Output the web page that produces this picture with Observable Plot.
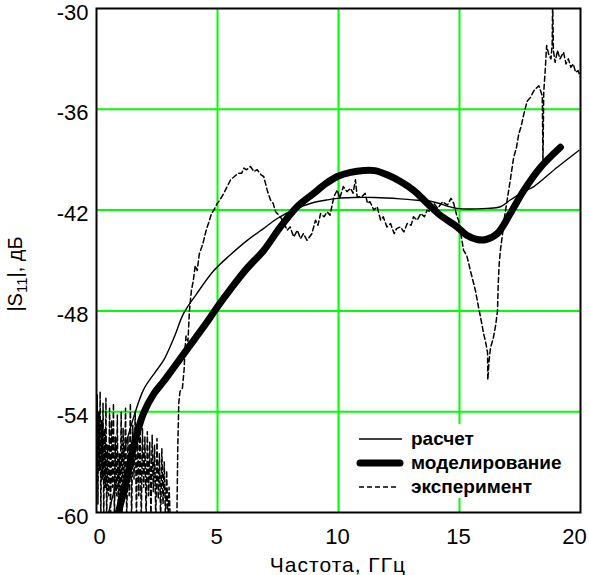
<!DOCTYPE html>
<html><head><meta charset="utf-8">
<script src="https://cdn.jsdelivr.net/npm/d3@7"></script>
<script src="https://cdn.jsdelivr.net/npm/@observablehq/plot@0.6"></script>
<style>
body{margin:0;background:#fff;}
#chart{width:589px;height:575px;}
</style></head><body><div id="chart"></div>
<script>
// ---- data ----
const xTicks = [0, 5, 10, 15, 20];
const yTicks = [-60, -54, -48, -42, -36, -30];
const xTickLabels = ["0", "5", "10", "15", "20"];
const yTickLabels = ["-60", "-54", "-48", "-42", "-36", "-30"];
const xLabel = "Частота, ГГц";
const yLabelMain = "|S";
const yLabelSub = "11";
const yLabelTail = "|, дБ";
const legendLabels = ["расчет", "моделирование", "эксперимент"];

// расчет (thin line)
const calcX = [0.5,0.8,1.2,1.5,1.94,2.4,2.77,3.2,3.6,4.13,4.85,5.5,6.23,6.9,7.47,8.2,8.97,9.5,9.96,10.6,11.5,12.56,13.39,13.9,14.9,16.14,16.69,17.1,17.66,18.07,19.04,19.93];
const calcY = [-60,-58.3,-56.0,-54.5,-52.7,-51.7,-50.95,-49.6,-48.15,-47.0,-45.6,-44.7,-43.8,-43.1,-42.5,-41.95,-41.55,-41.4,-41.3,-41.25,-41.25,-41.33,-41.43,-41.5,-41.9,-41.9,-41.8,-41.4,-40.9,-40.6,-39.45,-38.45];

// моделирование (thick line)
const modelX = [0.9,1.24,1.53,1.94,2.36,2.77,3.18,3.84,4.3,4.67,5.0,5.54,6.2,6.91,7.6,8.29,8.98,9.5,9.95,10.5,11.05,11.5,12.01,12.56,13.11,13.67,14.2,14.9,15.3,15.73,16.1,16.56,17.1,17.66,18.35,19.17];
const modelY = [-60,-58.1,-56.1,-54.1,-52.95,-52.2,-51.4,-50.1,-49.2,-48.45,-47.75,-46.7,-45.5,-44.4,-43.0,-41.8,-41.0,-40.4,-40.0,-39.75,-39.64,-39.65,-39.9,-40.3,-40.83,-41.6,-42.3,-43.0,-43.5,-43.75,-43.75,-43.4,-42.2,-40.83,-39.45,-38.26];

// эксперимент (dashed, noisy) [GHz, dB]
const expPoints = [
[0.00,-58],[0.03,-53.0],[0.06,-59.5],[0.09,-54.0],[0.12,-57.5],[0.15,-52.8],[0.18,-60.5],[0.21,-54.5],[0.24,-58.0],[0.27,-53.5],
[0.30,-60.5],[0.33,-55.0],[0.36,-58.5],[0.39,-53.2],[0.42,-60.5],[0.46,-56.0],[0.50,-59.0],[0.54,-53.8],[0.58,-60.5],[0.62,-54.5],
[0.66,-58.5],[0.70,-53.5],[0.74,-60.5],[0.78,-55.5],[0.82,-59.0],[0.86,-54.2],[0.90,-60.5],[0.94,-56.5],[0.98,-59.5],[1.02,-54.0],
[1.06,-60.5],[1.10,-55.0],[1.15,-58.5],[1.20,-53.8],[1.25,-60.5],[1.30,-55.5],[1.35,-59.0],[1.40,-53.5],[1.45,-60.5],[1.50,-54.8],
[1.55,-58.0],[1.60,-54.0],[1.65,-60.5],[1.70,-55.2],[1.75,-59.0],[1.80,-54.5],[1.85,-60.5],[1.90,-55.0],[1.95,-58.5],[2.00,-55.5],
[2.05,-60.5],[2.10,-55.2],[2.15,-59.0],[2.20,-55.8],[2.25,-60.5],[2.30,-55.4],[2.35,-58.8],[2.40,-56.0],[2.45,-60.5],[2.50,-55.6],
[2.55,-59.2],[2.60,-56.5],[2.65,-60.5],[2.70,-56.2],[2.75,-59.5],[2.80,-57.0],[2.85,-60.5],[2.90,-57.5],[2.95,-60.5],[3.00,-58.5],
[3.05,-60.5],[3.20,-60.5],[3.32,-60.5],[3.36,-56.0],[3.40,-53.5],[3.45,-52.8],[3.55,-52.6],[3.62,-51.5],[3.66,-50.2],[3.70,-49.5],
[3.78,-49.8],[3.84,-48.0],[3.92,-46.8],[4.00,-46.2],[4.08,-45.3],[4.16,-45.6],[4.25,-44.6],[4.35,-44.2],[4.43,-43.8],[4.55,-43.1],
[4.65,-42.7],[4.75,-42.2],[4.85,-42.0],[4.99,-41.6],[5.10,-41.4],[5.26,-41.0],[5.40,-40.6],[5.54,-40.2],[5.70,-40.0],[5.85,-39.8],
[6.00,-39.8],[6.09,-39.5],[6.20,-39.6],[6.36,-39.4],[6.50,-39.7],[6.64,-39.6],[6.80,-39.9],[6.91,-40.0],[7.00,-40.5],[7.05,-40.8],
[7.19,-41.4],[7.30,-41.6],[7.40,-42.1],[7.60,-42.4],[7.75,-42.8],[7.88,-43.2],[8.00,-43.0],[8.15,-43.6],[8.30,-43.2],[8.43,-43.7],
[8.55,-43.4],[8.70,-43.8],[8.90,-43.4],[9.05,-42.6],[9.15,-42.9],[9.26,-42.2],[9.40,-42.4],[9.53,-42.1],[9.65,-42.3],[9.81,-41.2],
[9.95,-40.8],[10.05,-41.3],[10.20,-40.6],[10.35,-40.9],[10.50,-40.7],[10.60,-41.0],[10.70,-40.2],[10.77,-41.2],[10.97,-41.2],[11.10,-41.0],
[11.20,-41.6],[11.30,-41.5],[11.46,-42.0],[11.60,-41.8],[11.74,-42.6],[11.85,-42.4],[12.00,-43.0],[12.15,-42.8],[12.30,-43.4],[12.40,-43.1],
[12.56,-43.0],[12.70,-43.3],[12.84,-42.8],[13.00,-42.9],[13.10,-42.4],[13.25,-42.6],[13.40,-42.2],[13.55,-42.4],[13.66,-42.0],[13.80,-42.1],
[13.95,-41.6],[14.10,-41.9],[14.30,-41.5],[14.50,-41.7],[14.65,-41.3],[14.76,-41.6],[14.90,-42.4],[14.96,-42.6],[15.17,-44.4],[15.30,-44.7],
[15.45,-45.6],[15.66,-46.8],[15.75,-47.5],[15.79,-47.8],[15.90,-48.6],[15.99,-49.3],[16.10,-50.0],[16.16,-50.5],[16.17,-52.1],[16.22,-51.0],
[16.28,-50.2],[16.40,-49.6],[16.50,-48.8],[16.57,-48.0],[16.60,-46.4],[16.64,-45.2],[16.69,-44.4],[16.78,-43.4],[16.85,-42.5],[16.97,-41.4],
[17.10,-40.2],[17.24,-38.85],[17.35,-38.3],[17.45,-37.46],[17.55,-37.0],[17.66,-36.27],[17.80,-35.5],[17.93,-35.3],[18.07,-34.9],[18.20,-34.7],
[18.28,-34.6],[18.35,-34.9],[18.42,-35.2],[18.45,-39.1],[18.48,-35.0],[18.55,-33.5],[18.60,-32.2],[18.70,-32.8],[18.78,-33.0],[18.83,-32.1],
[18.85,-29.5],[18.88,-32.5],[18.95,-33.2],[19.05,-32.5],[19.15,-33.0],[19.30,-32.6],[19.40,-33.3],[19.50,-33.0],[19.60,-33.5],[19.70,-33.3],
[19.80,-33.8],[19.90,-33.7],[20.00,-34.1]
];

// ---- build tables ----
const calc = calcX.map((x, i) => ({x, y: calcY[i]}));
const model = modelX.map((x, i) => ({x, y: modelY[i]}));
const exp = expPoints.map(([x, y]) => ({x, y}));
const fmtX = d => xTickLabels[xTicks.indexOf(d)];
const fmtY = d => yTickLabels[yTicks.indexOf(d)];
const FONT = "'Liberation Sans', Arial, Helvetica, sans-serif";

const svgNode = Plot.plot({
  width: 589, height: 575,
  marginLeft: 96, marginRight: 9, marginTop: 8, marginBottom: 63,
  style: {fontFamily: FONT, fontSize: "22px", background: "#fff", color: "#000", overflow: "visible"},
  x: {domain: [0, 20]},
  y: {domain: [-60, -30]},
  marks: [
    Plot.gridX(xTicks.slice(1, -1), {stroke: "#00ff00", strokeOpacity: 1, strokeWidth: 2}),
    Plot.gridY(yTicks.slice(1, -1), {stroke: "#00ff00", strokeOpacity: 1, strokeWidth: 2}),
    Plot.line(exp, {x: "x", y: "y", stroke: "#000", strokeWidth: 1.5, strokeDasharray: "5,3", clip: true}),
    Plot.line(calc, {x: "x", y: "y", stroke: "#000", strokeWidth: 1.4, curve: "catmull-rom", clip: true}),
    Plot.line(model, {x: "x", y: "y", stroke: "#000", strokeWidth: 7, strokeLinecap: "round", curve: "catmull-rom", clip: true}),
    Plot.frame({stroke: "#000", strokeWidth: 2}),
    Plot.axisX(xTicks.slice(0, 1), {tickSize: 0, tickPadding: 16, tickFormat: fmtX, label: null, fontSize: 22, dx: 3}),
    Plot.axisX(xTicks.slice(1, -1), {tickSize: 0, tickPadding: 16, tickFormat: fmtX, label: null, fontSize: 22, dx: -1}),
    Plot.axisX(xTicks.slice(-1), {tickSize: 0, tickPadding: 16, tickFormat: fmtX, label: null, fontSize: 22, dx: -6}),
    Plot.axisY(yTicks, {tickSize: 0, tickPadding: 8, tickFormat: fmtY, label: null, fontSize: 22, dy: 4})
  ]
});
document.getElementById("chart").appendChild(svgNode);

const svg = d3.select(svgNode);
// legend (white box hides grid)
const lg = svg.insert("g", "[aria-label='frame']").attr("font-family", FONT).attr("text-anchor", "start");
lg.append("rect").attr("x", 350).attr("y", 424).attr("width", 226).attr("height", 74).attr("fill", "#fff");
const legendStyles = [
  {w: 1.4, dash: null, x1: 359, x2: 402},
  {w: 7, dash: null, x1: 360, x2: 400},
  {w: 1.4, dash: "5,3", x1: 359, x2: 398}
];
const legendRowY = [439, 463, 487];
legendLabels.forEach((t, i) => {
  const s = legendStyles[i];
  const line = lg.append("line").attr("x1", s.x1).attr("x2", s.x2)
    .attr("y1", legendRowY[i]).attr("y2", legendRowY[i])
    .attr("stroke", "#000").attr("stroke-width", s.w).attr("stroke-linecap", i === 1 ? "round" : "butt");
  if (s.dash) line.attr("stroke-dasharray", s.dash);
  lg.append("text").attr("x", 411).attr("y", legendRowY[i] + 6).attr("text-anchor", "start")
    .attr("font-size", 19).attr("font-weight", "bold").attr("fill", "#000").text(t);
});
// axis titles
svg.append("text").attr("x", 338).attr("y", 572).attr("text-anchor", "middle")
  .attr("font-family", FONT).attr("font-size", 21).attr("letter-spacing", 1).attr("fill", "#000").text(xLabel);
const yl = svg.append("text").attr("transform", "translate(22,274) rotate(-90)")
  .attr("text-anchor", "middle").attr("font-family", FONT).attr("font-size", 20).attr("fill", "#000");
yl.append("tspan").text(yLabelMain);
yl.append("tspan").attr("font-size", 15).attr("dy", 5).text(yLabelSub);
yl.append("tspan").attr("dy", -5).text(yLabelTail);
</script>
</body></html>
